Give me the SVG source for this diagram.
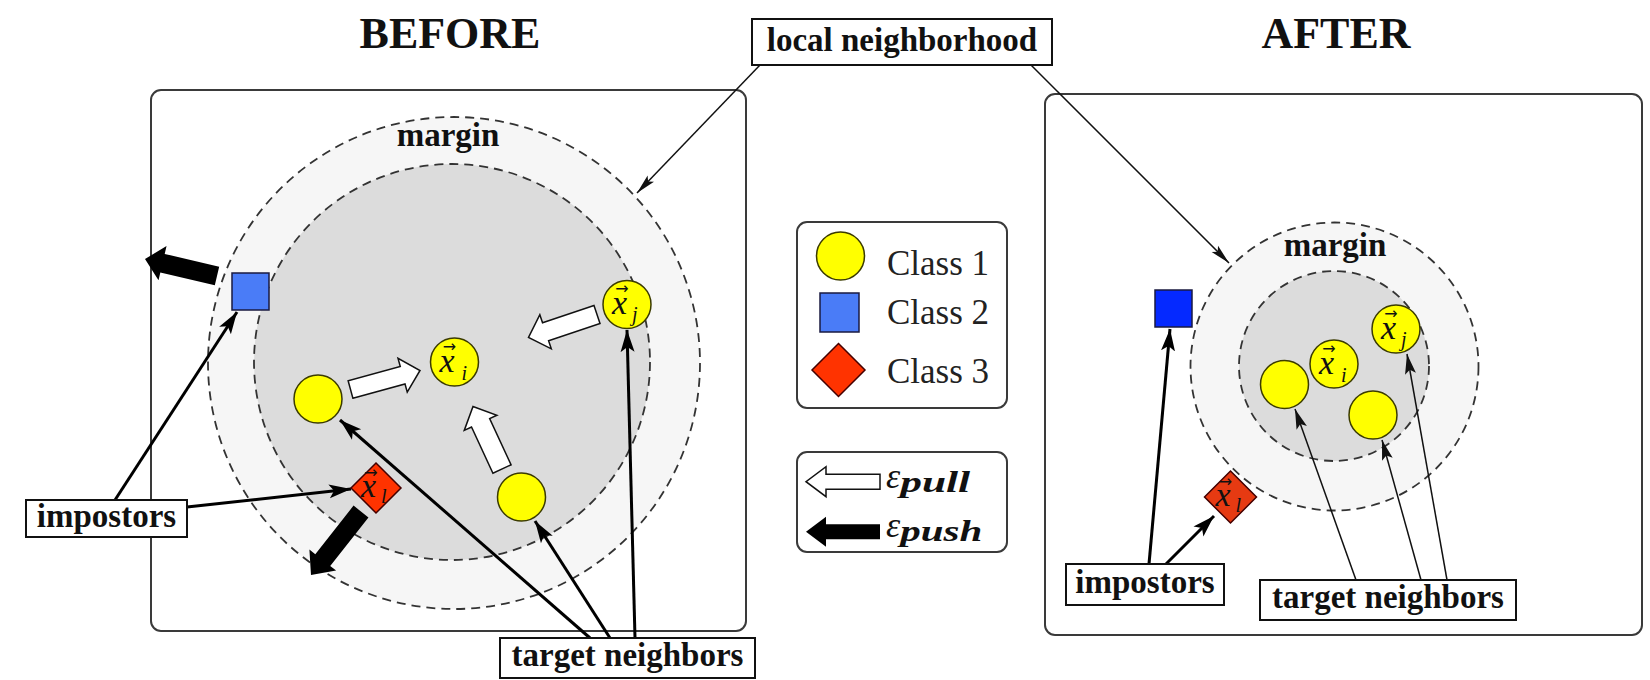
<svg xmlns="http://www.w3.org/2000/svg" width="1650" height="680" viewBox="0 0 1650 680">
<style>
.panel{fill:#fff;stroke:#3a3a3a;stroke-width:2}
.outer{fill:#f6f6f6;stroke:#333;stroke-width:1.8;stroke-dasharray:9 6}
.inner{fill:#dcdcdc;stroke:#333;stroke-width:1.8;stroke-dasharray:9 6}
.title{font-family:"Liberation Serif",serif;font-weight:bold;font-size:44px;text-anchor:middle;fill:#111}
.lbl{font-family:"Liberation Serif",serif;font-weight:bold;font-size:33px;text-anchor:middle;fill:#111}
.box{fill:#fff;stroke:#111;stroke-width:2}
.yel{fill:#ffff00;stroke:#3b3b00;stroke-width:1.5}
.sq1{fill:#4a7cf7;stroke:#1a1a40;stroke-width:1.5}
.sq2{fill:#0529ff;stroke:#1a1a40;stroke-width:1.5}
.dm1{fill:#ff3300;stroke:#400;stroke-width:1.5}
.dm2{fill:#e63a12;stroke:#400;stroke-width:1.5}
.mlab{font-family:"Liberation Serif",serif;font-style:italic;fill:#111}
.mx{font-size:34px}
.sub{font-size:20px}
.vec{font-family:"DejaVu Sans",sans-serif;font-style:normal;font-size:16px}
.thick{stroke:#000;stroke-width:3;fill:none}
.thin{stroke:#111;stroke-width:1.5;fill:none}
.pull{fill:#fff;stroke:#111;stroke-width:1.5;stroke-linejoin:miter}
.push{fill:#000}
.cls{font-family:"Liberation Serif",serif;font-size:35px;fill:#222}
.eps{font-family:"Liberation Serif",serif;font-style:italic;font-size:36px;fill:#111}
.epsub{font-family:"Liberation Serif",serif;font-style:italic;font-weight:bold;font-size:30px;fill:#111}
</style>
<defs>
<marker id="ahThick" markerUnits="userSpaceOnUse" markerWidth="22" markerHeight="16" viewBox="0 0 22 16" refX="22" refY="8" orient="auto">
<path d="M0,1 L22,8 L0,15 L5,8 z" fill="#000"/>
</marker>
<marker id="ahThin" markerUnits="userSpaceOnUse" markerWidth="20" markerHeight="10" viewBox="0 0 20 10" refX="20" refY="5" orient="auto">
<path d="M0,0.5 L20,5 L0,9.5 L4,5 z" fill="#111"/>
</marker>
<marker id="ahMid" markerUnits="userSpaceOnUse" markerWidth="20" markerHeight="12" viewBox="0 0 20 12" refX="20" refY="6" orient="auto">
<path d="M0,0.5 L20,6 L0,11.5 L4,6 z" fill="#111"/>
</marker>
</defs>

<rect width="1650" height="680" fill="#fff"/>

<g id="title-before"><text class="title" x="450" y="48">BEFORE</text></g>
<g id="title-after"><text class="title" x="1336" y="48">AFTER</text></g>

<g id="panel-before">
<rect class="panel" x="151" y="90" width="595" height="541" rx="10"/>
<circle class="outer" cx="454" cy="363" r="246"/>
<circle class="inner" cx="452" cy="362" r="198"/>
<text class="lbl" x="448" y="146">margin</text>
</g>

<g id="panel-after">
<rect class="panel" x="1045" y="94" width="597" height="541" rx="10"/>
<circle class="outer" cx="1334.5" cy="366.5" r="144"/>
<circle class="inner" cx="1334" cy="366" r="95"/>
<text class="lbl" x="1335" y="256">margin</text>
</g>

<g id="connectors">
<line class="thin" x1="760" y1="65" x2="637" y2="193" marker-end="url(#ahThin)"/>
<line class="thin" x1="1031" y1="65" x2="1229" y2="263" marker-end="url(#ahThin)"/>
<line class="thick" x1="115" y1="500" x2="237" y2="312" marker-end="url(#ahThick)"/>
<line class="thick" x1="187" y1="507" x2="351" y2="489" marker-end="url(#ahThick)"/>
<line class="thick" x1="590" y1="638" x2="340" y2="420" marker-end="url(#ahThick)"/>
<line class="thick" x1="610" y1="638" x2="535" y2="521" marker-end="url(#ahThick)"/>
<line class="thick" x1="635" y1="638" x2="627" y2="330" marker-end="url(#ahThick)"/>
<line class="thick" x1="1149" y1="564" x2="1170" y2="329" marker-end="url(#ahThick)"/>
<line class="thick" x1="1166" y1="564" x2="1214" y2="516" marker-end="url(#ahThick)"/>
<line class="thin" x1="1356" y1="580" x2="1295" y2="409" marker-end="url(#ahMid)"/>
<line class="thin" x1="1421" y1="580" x2="1382" y2="440" marker-end="url(#ahMid)"/>
<line class="thin" x1="1447" y1="580" x2="1407" y2="354" marker-end="url(#ahMid)"/>
</g>

<g id="forces">
<polygon class="push" points="219.18,266.75 164.70,253.89 166.54,246.11 145,259 158.50,280.17 160.34,272.39 214.82,285.25"/>
<polygon class="push" points="353.54,505.62 315.29,554.19 309.40,549.55 311,575 336.11,570.59 330.22,565.95 368.46,517.38"/>
<polygon class="pull" points="352.87,398.18 405.01,383.93 407.25,392.13 420,370.5 398.02,358.37 400.26,366.57 348.13,380.82"/>
<polygon class="pull" points="593.98,305.49 542.54,322.77 539.83,314.71 528.5,337.5 551.29,348.84 548.59,340.78 600.02,323.51"/>
<polygon class="pull" points="511.07,464.79 489.65,418.62 496.90,415.25 473,406.5 464.25,430.40 471.51,427.04 492.93,473.21"/>
</g>

<g id="before-impostor-square"><rect class="sq1" x="232" y="273" width="37" height="37"/></g>
<g id="before-impostor-xl">
<polygon class="dm1" points="376,463 401,488 376,513 351,488"/>
<text class="mlab" x="361" y="497"><tspan class="mx">x</tspan><tspan class="vec" dx="-11.8" dy="-19">→</tspan><tspan class="sub" dx="3.3" dy="25">l</tspan></text>
</g>
<g id="before-neighbor-a"><circle class="yel" cx="318" cy="399" r="24"/></g>
<g id="before-xi">
<circle class="yel" cx="454.5" cy="362" r="24"/>
<text class="mlab" x="439.5" y="372"><tspan class="mx">x</tspan><tspan class="vec" dx="-11.8" dy="-20">→</tspan><tspan class="sub" dx="5.3" dy="28">i</tspan></text>
</g>
<g id="before-xj">
<circle class="yel" cx="627" cy="304.5" r="24"/>
<text class="mlab" x="612" y="314"><tspan class="mx">x</tspan><tspan class="vec" dx="-11.8" dy="-20">→</tspan><tspan class="sub" dx="3.3" dy="27">j</tspan></text>
</g>
<g id="before-neighbor-b"><circle class="yel" cx="521.5" cy="497" r="24"/></g>

<g id="after-impostor-square"><rect class="sq2" x="1155" y="290" width="37" height="37"/></g>
<g id="after-impostor-xl">
<polygon class="dm2" points="1230.5,471 1256.5,497 1230.5,523 1204.5,497"/>
<text class="mlab" x="1215.5" y="506"><tspan class="mx">x</tspan><tspan class="vec" dx="-11.8" dy="-19">→</tspan><tspan class="sub" dx="3.3" dy="25">l</tspan></text>
</g>
<g id="after-neighbor-a"><circle class="yel" cx="1284.5" cy="384.5" r="24"/></g>
<g id="after-xi">
<circle class="yel" cx="1334" cy="364" r="24"/>
<text class="mlab" x="1319" y="374"><tspan class="mx">x</tspan><tspan class="vec" dx="-11.8" dy="-20">→</tspan><tspan class="sub" dx="5.3" dy="28">i</tspan></text>
</g>
<g id="after-xj">
<circle class="yel" cx="1396" cy="329" r="24"/>
<text class="mlab" x="1381" y="339"><tspan class="mx">x</tspan><tspan class="vec" dx="-11.8" dy="-20">→</tspan><tspan class="sub" dx="3.3" dy="27">j</tspan></text>
</g>
<g id="after-neighbor-b"><circle class="yel" cx="1373" cy="415" r="24"/></g>

<g id="label-local-neighborhood">
<rect class="box" x="752" y="19" width="300" height="46"/>
<text class="lbl" x="902" y="51">local neighborhood</text>
</g>
<g id="label-impostors-before">
<rect class="box" x="26" y="500" width="161" height="37"/>
<text class="lbl" x="106.5" y="527">impostors</text>
</g>
<g id="label-target-before">
<rect class="box" x="500" y="638" width="255" height="40"/>
<text class="lbl" x="627.5" y="666">target neighbors</text>
</g>
<g id="label-impostors-after">
<rect class="box" x="1066" y="564" width="158" height="41"/>
<text class="lbl" x="1145" y="593">impostors</text>
</g>
<g id="label-target-after">
<rect class="box" x="1260" y="580" width="256" height="40"/>
<text class="lbl" x="1388" y="608">target neighbors</text>
</g>

<g id="legend-classes">
<rect class="panel" x="797" y="222" width="210" height="186" rx="10"/>
<circle class="yel" cx="840.5" cy="256" r="24"/>
<text class="cls" x="887" y="275">Class 1</text>
<rect class="sq1" x="820" y="293" width="39" height="39"/>
<text class="cls" x="887" y="324">Class 2</text>
<polygon class="dm1" points="838.5,343.5 865,370 838.5,396.5 812,370"/>
<text class="cls" x="887" y="383">Class 3</text>
</g>

<g id="legend-forces">
<rect class="panel" x="797" y="452" width="210" height="100" rx="10"/>
<polygon class="pull" points="880,474.2 826,474.2 826,466.7 806,481.7 826,496.7 826,489.2 880,489.2"/>
<text x="886" y="488"><tspan class="eps">ε</tspan><tspan class="epsub" dy="4" textLength="70" lengthAdjust="spacingAndGlyphs">pull</tspan></text>
<polygon class="push" points="880,524.2 826,524.2 826,516.7 806,531.7 826,546.7 826,539.2 880,539.2"/>
<text x="886" y="537"><tspan class="eps">ε</tspan><tspan class="epsub" dy="4" textLength="82" lengthAdjust="spacingAndGlyphs">push</tspan></text>
</g>
</svg>
